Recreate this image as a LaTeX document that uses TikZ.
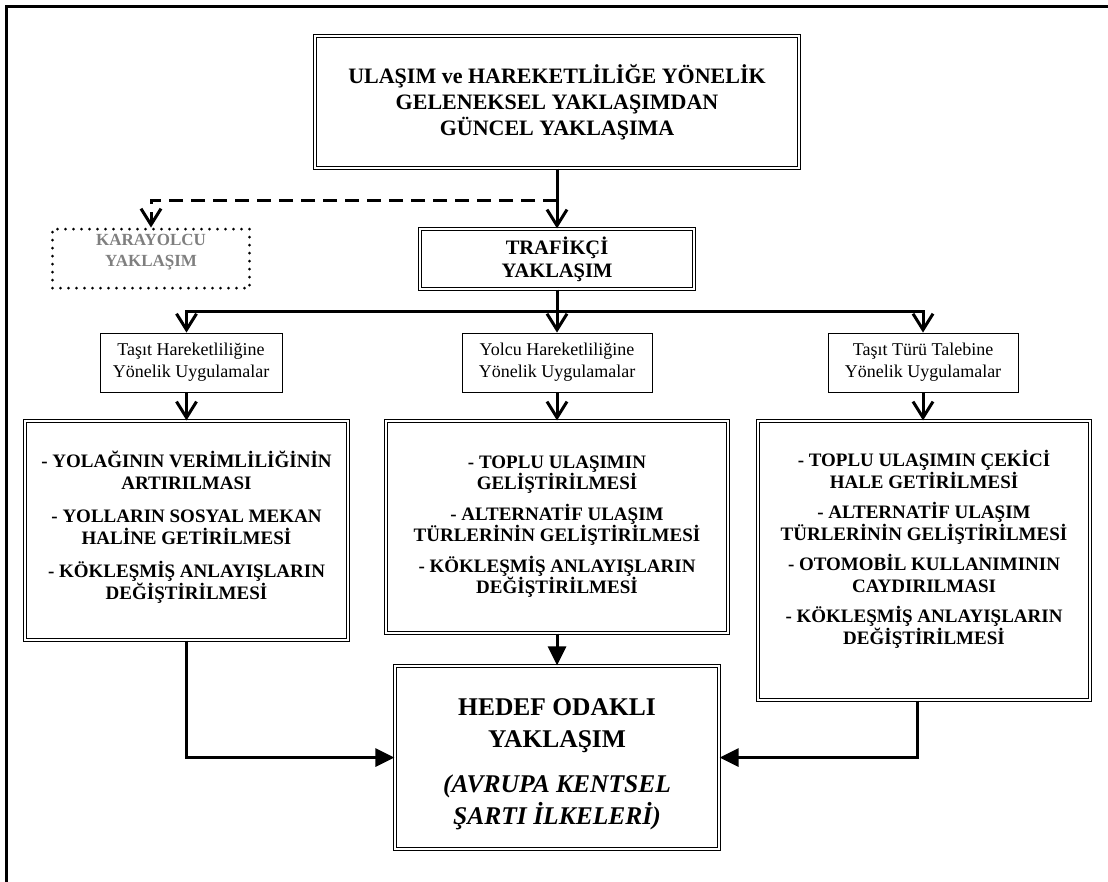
\documentclass[tikz,border=0pt]{standalone}
\usepackage{fontspec}
\setmainfont{Liberation Serif}
\usetikzlibrary{arrows.meta}
\definecolor{softgray}{HTML}{7F7F7F}

\begin{document}
\begin{tikzpicture}[x=1pt,y=-1pt,
  every node/.style={align=center, inner sep=0pt},
  dbox/.style={draw, double, double distance=1.2pt, line width=1.2pt},
  sbox/.style={draw, line width=0.9pt, font=\fontsize{18}{22}\selectfont},
  dotbox/.style={draw, line width=3pt, dash pattern=on 0pt off 8pt, line cap=round},
  itemtext/.style={font=\fontsize{19}{21.5}\selectfont\bfseries},
  conn/.style={line width=3pt},
  vtip/.style={-{Straight Barb[length=16pt,width=20pt]}},
  ttip/.style={-{Triangle[length=19pt,width=18pt]}},
]
\useasboundingbox (0,0) rectangle (1108,881);

% outer frame (top and left edges)
\draw[line width=3pt] (1110,6) -- (6,6) -- (6,883);

% title
\node[dbox, minimum width=484pt, minimum height=132pt,
      font=\fontsize{22}{26}\selectfont\bfseries] (top) at (557,102)
  {ULAŞIM ve HAREKETLİLİĞE YÖNELİK\\GELENEKSEL YAKLAŞIMDAN\\GÜNCEL YAKLAŞIMA};

% the two approaches
\node[dotbox, minimum width=197pt, minimum height=59pt] (kara) at (151,258.5) {};
\node[font=\fontsize{17}{21}\selectfont\bfseries, text=softgray] (karatext) at (151,252)
  {KARAYOLCU\\YAKLAŞIM};
\node[dbox, minimum width=274pt, minimum height=60pt,
      font=\fontsize{20.5}{23}\selectfont\bfseries] (traf) at (557,259)
  {TRAFİKÇİ\\YAKLAŞIM};

% application groups
\node[sbox, minimum width=182pt, minimum height=59pt] (s1) at (191,362.5)
  {Taşıt Hareketliliğine\\Yönelik Uygulamalar};
\node[sbox, minimum width=190pt, minimum height=59pt] (s2) at (557,362.5)
  {Yolcu Hareketliliğine\\Yönelik Uygulamalar};
\node[sbox, minimum width=190pt, minimum height=59pt] (s3) at (923,362.5)
  {Taşıt Türü Talebine\\Yönelik Uygulamalar};

% measures
\node[dbox, minimum width=323pt, minimum height=219pt] (b1) at (186.5,530.5) {};
\node[itemtext] (t1) at (186.5,527)
  {- YOLAĞININ VERİMLİLİĞİNİN\\ARTIRILMASI\\[12pt]
   - YOLLARIN SOSYAL MEKAN\\HALİNE GETİRİLMESİ\\[12pt]
   - KÖKLEŞMİŞ ANLAYIŞLARIN\\DEĞİŞTİRİLMESİ};
\node[dbox, minimum width=342pt, minimum height=212pt] (b2) at (557,527) {};
\node[itemtext] (t2) at (557,526.5)
  {- TOPLU ULAŞIMIN\\GELİŞTİRİLMESİ\\[9pt]
   - ALTERNATİF ULAŞIM\\TÜRLERİNİN GELİŞTİRİLMESİ\\[9pt]
   - KÖKLEŞMİŞ ANLAYIŞLARIN\\DEĞİŞTİRİLMESİ};
\node[dbox, minimum width=332pt, minimum height=279pt] (b3) at (924,560.5) {};
\node[itemtext] (t3) at (924,549.5)
  {- TOPLU ULAŞIMIN ÇEKİCİ\\HALE GETİRİLMESİ\\[9pt]
   - ALTERNATİF ULAŞIM\\TÜRLERİNİN GELİŞTİRİLMESİ\\[9pt]
   - OTOMOBİL KULLANIMININ\\CAYDIRILMASI\\[9pt]
   - KÖKLEŞMİŞ ANLAYIŞLARIN\\DEĞİŞTİRİLMESİ};

% goal
\node[dbox, minimum width=324pt, minimum height=183pt] (bot) at (557,757.5) {};
\node[font=\fontsize{25.5}{32}\selectfont\bfseries] (bottext) at (557,764)
  {HEDEF ODAKLI\\YAKLAŞIM\\[13pt]
   \textit{(AVRUPA KENTSEL}\\\textit{ŞARTI İLKELERİ)}};

% connectors
\coordinate (dsplit) at (557,200);
\coordinate (bus) at (557,311);
\draw[conn, vtip] (traf.north |- top.south) -- (traf.north);
\draw[conn, dash pattern=on 14pt off 8pt, vtip] (dsplit) -| (kara.north);
\draw[conn] (traf.south) -- (bus);
\draw[conn, vtip] (bus) -| (b1.north |- s1.north);
\draw[conn, vtip] (bus) -- (s2.north);
\draw[conn, vtip] (bus) -| (s3.north);
\draw[conn, vtip] (b1.north |- s1.south) -- (b1.north);
\draw[conn, vtip] (s2.south) -- (b2.north);
\draw[conn, vtip] (s3.south) -- (s3.south |- b3.north);
\draw[conn, ttip] (b2.south) -- (bot.north);
\draw[conn, ttip] (b1.south) |- (bot.west);
\draw[conn, ttip] ([xshift=-7pt]b3.south) |- (bot.east);
\end{tikzpicture}
\end{document}
